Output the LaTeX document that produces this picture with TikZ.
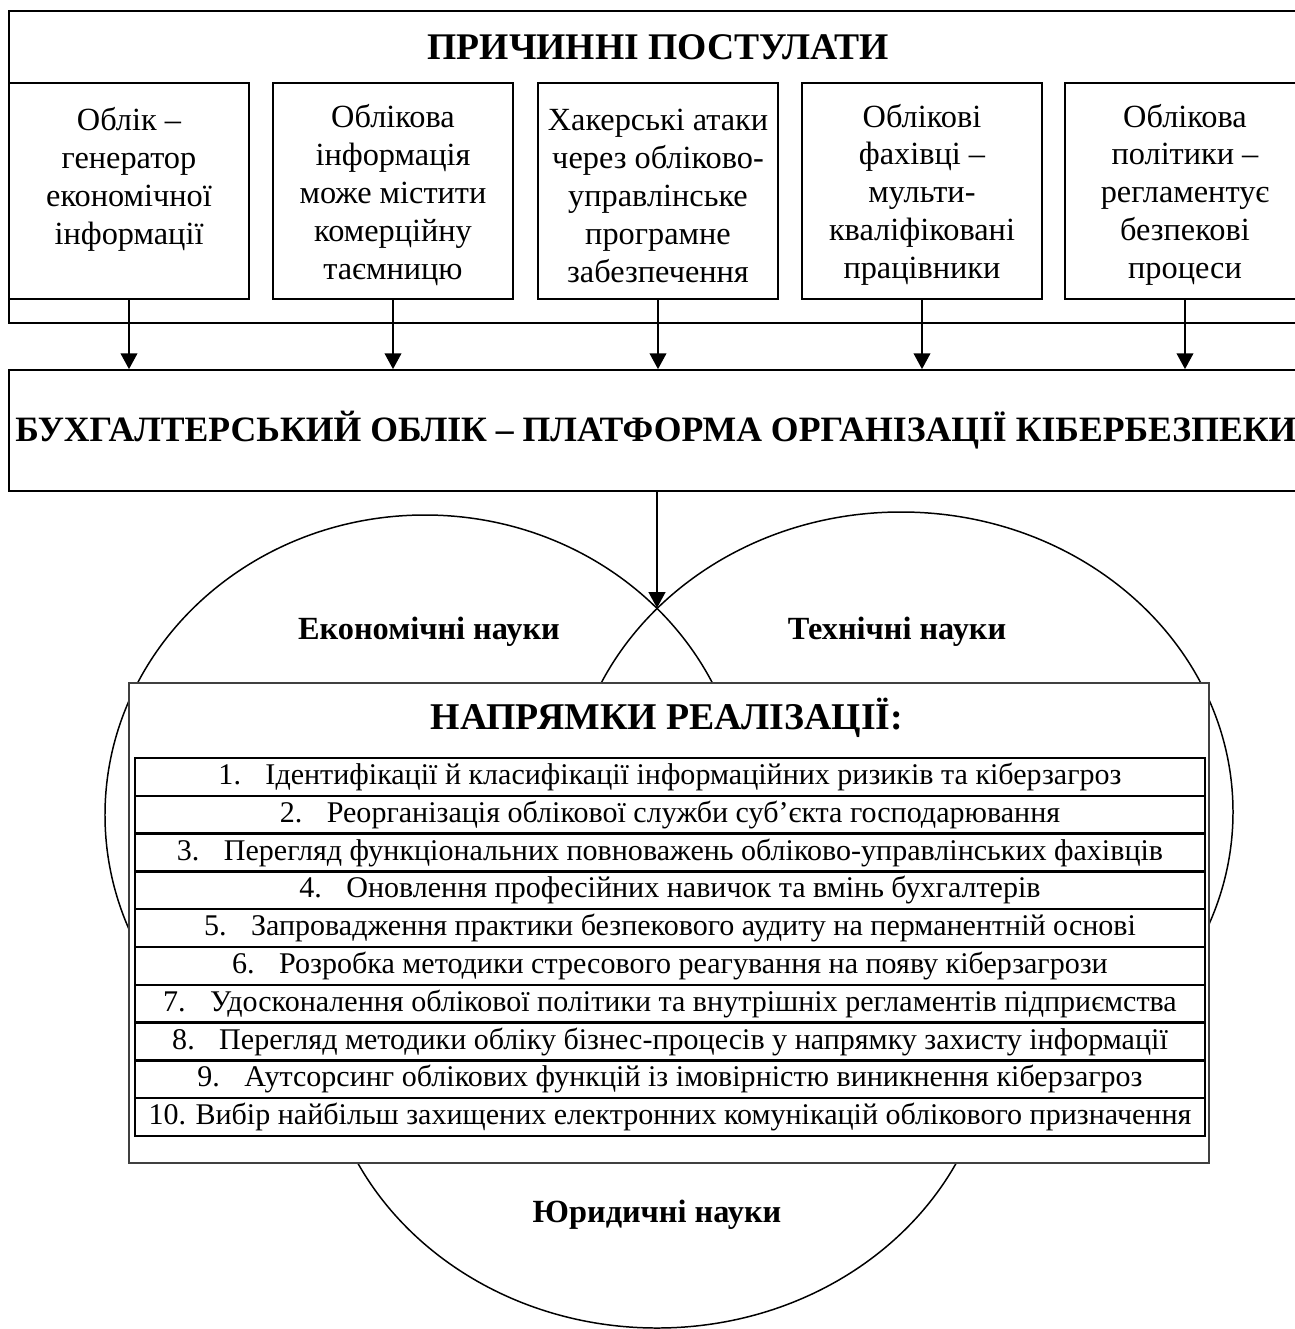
\documentclass[tikz,border=0pt]{standalone}
\usepackage{fontspec}
\setmainfont{Liberation Serif}
\usetikzlibrary{arrows.meta}
\newcommand{\bodysize}{\fontsize{18.4}{21.6}\selectfont}
\newcommand{\rowsize}{\fontsize{17.1}{20}\selectfont}
\newcommand{\headsize}{\fontsize{21.4}{25}\selectfont\bfseries}
\newcommand{\topgap}{\rule{0pt}{17.5pt}}
\newcommand{\numitem}[2]{\makebox[9.4mm][l]{#1.}#2}

\begin{document}
\begin{tikzpicture}[x=0.2mm,y=-0.2mm,
  cause/.style={draw,line width=1pt,minimum width=48mm,minimum height=43.2mm,
    align=center,font=\bodysize,inner sep=0pt},
  field/.style={font=\bodysize\bfseries},
  rowbox/.style={draw,line width=1.3pt,minimum width=214mm,minimum height=7.56mm,
    inner sep=0pt,font=\rowsize},
  link/.style={line width=1pt,-{Triangle[length=9pt,width=9.5pt]}}]
  \useasboundingbox (0,0) rectangle (1295,1329);
  \clip (0,0) rectangle (1295,1329);

  %causal postulates
  \draw[line width=1pt] (9,11) rectangle (1320,323);
  \node[font=\headsize] (title) at (658,47) {ПРИЧИННІ ПОСТУЛАТИ};
  \node[cause] (c1) at (129,191) {\topgap Облік –\\генератор\\економічної\\інформації\\~};
  \node[cause] (c2) at (393,191) {\topgap Облікова\\інформація\\може містити\\комерційну\\таємницю};
  \node[cause] (c3) at (658,191) {\topgap Хакерські атаки\\через обліково-\\управлінське\\програмне\\забезпечення};
  \node[cause] (c4) at (922,191) {\topgap Облікові\\фахівці –\\мульти-\\кваліфіковані\\працівники};
  \node[cause] (c5) at (1185,191) {\topgap Облікова\\політики –\\регламентує\\безпекові\\процеси};

  %platform
  \node[draw,line width=1pt,minimum width=258.8mm,minimum height=24.2mm,
    font=\fontsize{20.3}{24}\selectfont\bfseries,inner sep=0pt] (platform) at (656,430.5)
    {БУХГАЛТЕРСЬКИЙ ОБЛІК – ПЛАТФОРМА ОРГАНІЗАЦІЇ КІБЕРБЕЗПЕКИ};
  \foreach \i in {1,...,5}
    \draw[link] (c\i.south) -- (c\i.south |- platform.north);

  %fields of science
  \draw[line width=0.85pt] (425,815) ellipse [x radius=64mm, y radius=60mm];
  \draw[line width=0.85pt] (901,812) ellipse [x radius=66.4mm, y radius=60mm];
  \draw[line width=0.85pt] (657,1028) ellipse [x radius=67mm, y radius=60mm];
  \node[field] (econ) at (429,632) {Економічні науки};
  \node[field] (tech) at (897,632) {Технічні науки};
  \node[field] (law) at (657,1215) {Юридичні науки};
  \coordinate (meet) at (657,608);
  \draw[link] (meet |- platform.south) -- (meet);

  %directions of implementation
  \node[draw=black!75,line width=1.3pt,fill=white,minimum width=216mm,
    minimum height=96mm] (dirs) at (669,923) {};
  \node[font=\fontsize{21.5}{26}\selectfont\bfseries] (dirhead) at (667,718)
    {НАПРЯМКИ РЕАЛІЗАЦІЇ:};
  \foreach \i/\t in {
    1/{Ідентифікації й класифікації інформаційних ризиків та кіберзагроз},
    2/{Реорганізація облікової служби суб’єкта господарювання},
    3/{Перегляд функціональних повноважень обліково-управлінських фахівців},
    4/{Оновлення професійних навичок та вмінь бухгалтерів},
    5/{Запровадження практики безпекового аудиту на перманентній основі},
    6/{Розробка методики стресового реагування на появу кіберзагрози},
    7/{Удосконалення облікової політики та внутрішніх регламентів підприємства},
    8/{Перегляд методики обліку бізнес-процесів у напрямку захисту інформації},
    9/{Аутсорсинг облікових функцій із імовірністю виникнення кіберзагроз},
    10/{Вибір найбільш захищених електронних комунікацій облікового призначення}}
    \node[rowbox] (r\i) at (670,{758+37.8*(\i-0.5)}) {\numitem{\i}{\t}};
\end{tikzpicture}
\end{document}
